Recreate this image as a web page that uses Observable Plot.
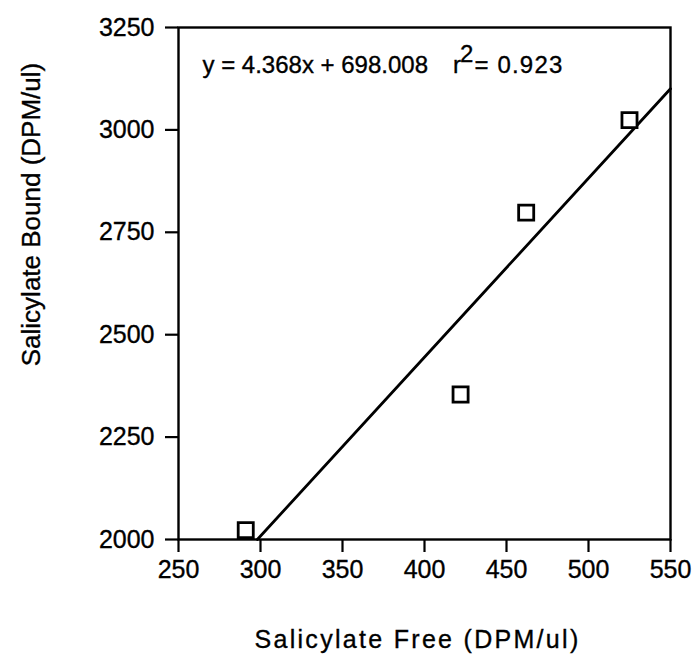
<!DOCTYPE html>
<html><head><meta charset="utf-8">
<script src="https://cdn.jsdelivr.net/npm/d3@7"></script>
<script src="https://cdn.jsdelivr.net/npm/@observablehq/plot@0.6"></script>
<style>html,body{margin:0;padding:0;background:#fff} #chart svg{display:block}</style>
</head><body><div id="chart"></div>
<script>
const freeValues = [291, 422, 462, 525];
const boundValues = [2023, 2354, 2798, 3024];
const xTicks = [250, 300, 350, 400, 450, 500, 550];
const yTicks = [2000, 2250, 2500, 2750, 3000, 3250];
const slope = 4.368;
const intercept = 698.008;
const slopeLabel = "4.368";
const interceptLabel = "698.008";
const rSquaredLabel = "0.923";
const xTitle = "Salicylate Free (DPM/ul)";
const yTitle = "Salicylate Bound (DPM/ul)";

const points = freeValues.map((x, i) => ({x, y: boundValues[i]}));
const xDomain = [xTicks[0], xTicks[xTicks.length - 1]];
const yDomain = [yTicks[0], yTicks[yTicks.length - 1]];
const fitStart = (yDomain[0] - intercept) / slope;
const fit = [fitStart, xDomain[1]].map(x => ({x, y: slope * x + intercept}));

const font = "Arial, 'Liberation Sans', Helvetica, sans-serif";
const plot = Plot.plot({
  width: 696, height: 666,
  marginLeft: 178, marginRight: 26, marginTop: 27, marginBottom: 127,
  style: {fontFamily: font, fontSize: "25px", color: "#000", background: "#fff", overflow: "visible"},
  x: {domain: xDomain},
  y: {domain: yDomain},
  marks: [
    Plot.axisX({ticks: xTicks, tickFormat: "d", tickSize: 13, tickPadding: 8, strokeWidth: 2.2, fontSize: 25,
      label: xTitle, labelAnchor: "center", labelOffset: 108, labelArrow: "none"}),
    Plot.axisY({ticks: yTicks, tickFormat: "d", tickSize: 13, tickPadding: 11, strokeWidth: 2.2, fontSize: 25,
      label: yTitle, labelAnchor: "center", labelOffset: 157, labelArrow: "none"}),
    Plot.frame({stroke: "#000", strokeWidth: 2.4}),
    Plot.line(fit, {x: "x", y: "y", stroke: "#000", strokeWidth: 2.8}),
    Plot.dot(points, {x: "x", y: "y", symbol: "square", r: 8.5, stroke: "#000", strokeWidth: 2.8, fill: "#fff"}),
    Plot.text([`y = ${slopeLabel}x + ${interceptLabel}`], {frameAnchor: "top-left", dx: 24, dy: 45, textAnchor: "start", lineAnchor: "bottom", fontSize: 24, fill: "#000"})
  ]
});
document.getElementById("chart").appendChild(plot);

const svg = d3.select(plot);
const eq = svg.select('g[aria-label="text"] text');
eq.text(null);
eq.append("tspan").text(`y = ${slopeLabel}x + ${interceptLabel}`);
eq.append("tspan").attr("dx", "25").text("r");
eq.append("tspan").attr("dy", "-0.42em").attr("dx", "-1").attr("font-size", "24px").text("2");
eq.append("tspan").attr("dy", "0.42em").attr("dx", "1").attr("letter-spacing", "1.2px").text("= " + rSquaredLabel);

function shift(selector, dx, dy) {
  svg.selectAll(selector).each(function() {
    const t = d3.select(this);
    const cur = t.attr("transform") || "";
    t.attr("transform", `translate(${dx},${dy}) ` + cur);
  });
}
svg.selectAll('g[aria-label="x-axis label"] text').attr("font-size", 25).attr("letter-spacing", "2.3px");
shift('g[aria-label="x-axis label"] text', -7, 0);
svg.selectAll('g[aria-label="y-axis label"] text').attr("font-size", 26);
shift('g[aria-label="y-axis label"] text', 0, -69);
svg.selectAll("text").attr("stroke", "#000").attr("stroke-width", 0.35);
</script>
</body></html>
